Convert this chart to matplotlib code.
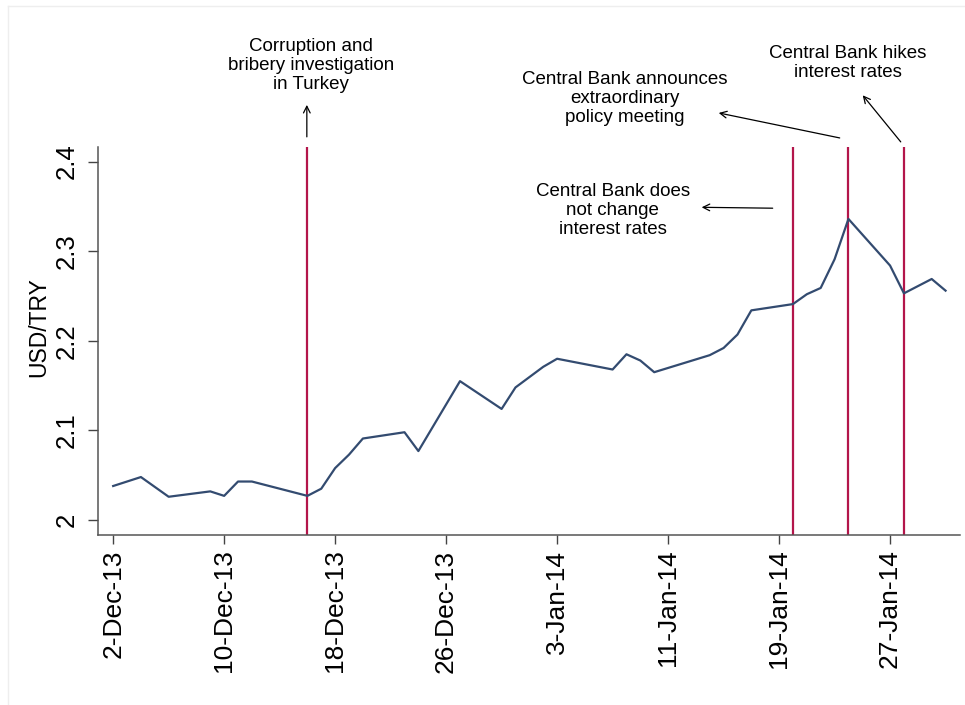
import matplotlib
matplotlib.use("Agg")
import matplotlib.pyplot as plt
from matplotlib.lines import Line2D
import pandas as pd

plt.rcParams['font.family'] = ['Liberation Sans', 'DejaVu Sans']

# USD/TRY daily rate
dates = ["2013-12-02", "2013-12-04", "2013-12-06", "2013-12-09", "2013-12-10",
         "2013-12-11", "2013-12-12", "2013-12-16", "2013-12-17", "2013-12-18",
         "2013-12-19", "2013-12-20", "2013-12-23", "2013-12-24", "2013-12-27",
         "2013-12-30", "2013-12-31", "2014-01-02", "2014-01-03", "2014-01-07",
         "2014-01-08", "2014-01-09", "2014-01-10", "2014-01-14", "2014-01-15",
         "2014-01-16", "2014-01-17", "2014-01-20", "2014-01-21", "2014-01-22",
         "2014-01-23", "2014-01-24", "2014-01-27", "2014-01-28", "2014-01-30",
         "2014-01-31"]
usdtry = [2.038, 2.048, 2.026, 2.032, 2.027,
          2.043, 2.043, 2.027, 2.035, 2.058,
          2.073, 2.091, 2.098, 2.077, 2.155,
          2.124, 2.148, 2.171, 2.180, 2.168,
          2.185, 2.178, 2.165, 2.184, 2.192,
          2.207, 2.234, 2.241, 2.252, 2.259,
          2.291, 2.336, 2.284, 2.253, 2.269,
          2.256]

event_dates = ["2013-12-16", "2014-01-20", "2014-01-24", "2014-01-28"]
tick_dates = ["2013-12-02", "2013-12-10", "2013-12-18", "2013-12-26",
              "2014-01-03", "2014-01-11", "2014-01-19", "2014-01-27"]
y_ticks = [2, 2.1, 2.2, 2.3, 2.4]
y_tick_labels = ["2", "2.1", "2.2", "2.3", "2.4"]

x = pd.to_datetime(dates)
ev = pd.to_datetime(event_dates)
tk = pd.to_datetime(tick_dates)
t0 = pd.Timestamp("2013-12-02")
day = pd.Timedelta(days=1)

fig = plt.figure(figsize=(9.65, 7.05), dpi=100)
ax = fig.add_axes([0.1016, 0.2411, 0.8932, 0.5504])

ax.plot(x, usdtry, color="#334b70", lw=1.6, zorder=3)
for d in ev:
    ax.axvline(d, color="#b3154a", lw=1.6, zorder=2)

ax.set_xlim(t0 - 1.09 * day, t0 + 61.04 * day)
ax.set_ylim(1.9833, 2.4163)

ax.set_xticks(tk)
ax.set_xticklabels([f"{d.day}-{d.strftime('%b-%y')}" for d in tk],
                   rotation=90, fontsize=19)
ax.set_yticks(y_ticks)
ax.set_yticklabels(y_tick_labels, rotation=90, va="center", fontsize=18.5)
ax.tick_params(axis="x", direction="out", length=6.5, width=1.0,
               color="#444444", pad=4)
ax.tick_params(axis="y", direction="out", length=7, width=1.0,
               color="#444444", pad=7)

ax.set_ylabel("USD/TRY", fontsize=16.5)
ax.yaxis.set_label_coords(-0.056, 0.536)

for s in ["top", "right"]:
    ax.spines[s].set_visible(False)
for s in ["left", "bottom"]:
    ax.spines[s].set_color("#555555")
    ax.spines[s].set_linewidth(1.1)

arrow = dict(arrowstyle="->", color="black", lw=0.9, shrinkA=0, shrinkB=0,
             mutation_scale=12)
fs = 13.5
ls = 1.15

ax.annotate("", xy=(t0 + 13.96 * day, 2.4633), xytext=(t0 + 13.96 * day, 2.4276),
            arrowprops=arrow, annotation_clip=False)
ax.text(t0 + 14.25 * day, 2.507, "Corruption and\nbribery investigation\nin Turkey",
        ha="center", va="center", fontsize=fs, linespacing=ls, clip_on=False)

ax.annotate("", xy=(t0 + 43.65 * day, 2.4543), xytext=(t0 + 52.37 * day, 2.4264),
            arrowprops=arrow, annotation_clip=False)
ax.text(t0 + 36.87 * day, 2.470, "Central Bank announces\nextraordinary\npolicy meeting",
        ha="center", va="center", fontsize=fs, linespacing=ls, clip_on=False)

ax.annotate("", xy=(t0 + 54.03 * day, 2.474), xytext=(t0 + 56.77 * day, 2.422),
            arrowprops=arrow, annotation_clip=False)
ax.text(t0 + 52.95 * day, 2.510, "Central Bank hikes\ninterest rates",
        ha="center", va="center", fontsize=fs, linespacing=ls, clip_on=False)

ax.annotate("", xy=(t0 + 42.42 * day, 2.349), xytext=(t0 + 47.54 * day, 2.348),
            arrowprops=arrow, annotation_clip=False)
ax.text(t0 + 36.0 * day, 2.345, "Central Bank does\nnot change\ninterest rates",
        ha="center", va="center", fontsize=fs, linespacing=ls)

# faint outer frame, as in the original export
fig.add_artist(Line2D([8 / 965, 1], [1 - 6 / 705, 1 - 6 / 705],
                      color="#eeeeee", lw=1, transform=fig.transFigure))
fig.add_artist(Line2D([8 / 965, 8 / 965], [0, 1 - 6 / 705],
                      color="#eeeeee", lw=1, transform=fig.transFigure))

fig.savefig("out.png", dpi=100)
